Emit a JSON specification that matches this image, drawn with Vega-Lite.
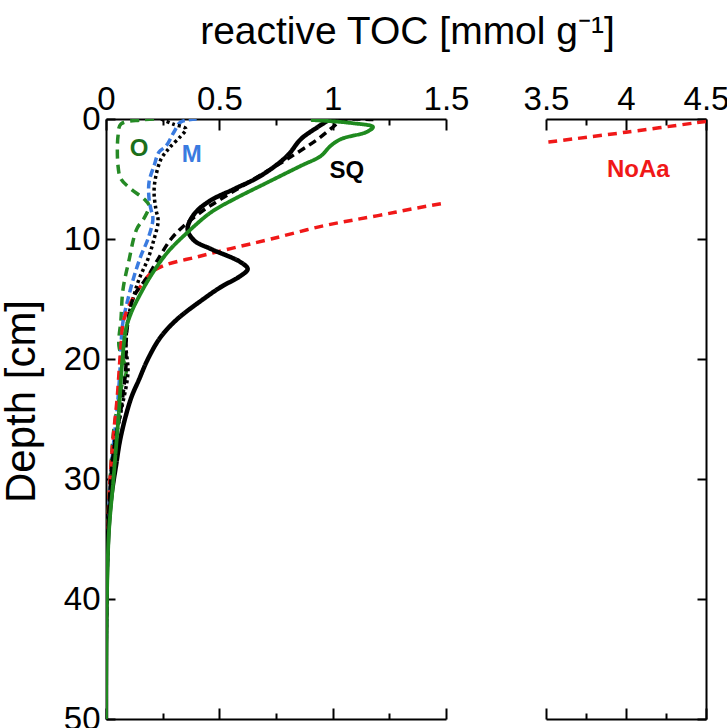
{
  "$schema": "https://vega.github.io/schema/vega-lite/v6.json",
  "background": "white",
  "padding": {"left": 0, "top": 12, "right": 0, "bottom": 0},
  "spacing": 100,
  "bounds": "flush",
  "config": {"view": {"stroke": null}, "font": "Liberation Sans"},
  "datasets": {
    "lines": [
      {"s":"O","x":0.212,"d":0},{"s":"O","x":0.154,"d":0.08},{"s":"O","x":0.066,"d":0.42},{"s":"O","x":0.053,"d":1.42},{"s":"O","x":0.053,"d":3.9},{"s":"O","x":0.066,"d":5.0},{"s":"O","x":0.11,"d":5.83},{"s":"O","x":0.168,"d":6.67},{"s":"O","x":0.19,"d":7.2},{"s":"O","x":0.17,"d":8.2},{"s":"O","x":0.135,"d":9.2},{"s":"O","x":0.10,"d":11.9},{"s":"O","x":0.075,"d":14.2},{"s":"O","x":0.066,"d":16.7},{"s":"O","x":0.057,"d":18.9},{"s":"O","x":0.075,"d":20.0},{"s":"O","x":0.09,"d":21.0},{"s":"O","x":0.07,"d":22.2},{"s":"O","x":0.035,"d":25.8},{"s":"O","x":0.022,"d":28.9},{"s":"O","x":0.009,"d":33.3},{"s":"O","x":0.002,"d":40},{"s":"O","x":0,"d":50},
      {"s":"M","x":0.40,"d":0},{"s":"M","x":0.33,"d":0.25},{"s":"M","x":0.30,"d":1.08},{"s":"M","x":0.265,"d":2.25},{"s":"M","x":0.234,"d":2.75},{"s":"M","x":0.212,"d":3.9},{"s":"M","x":0.19,"d":5.25},{"s":"M","x":0.19,"d":6.67},{"s":"M","x":0.198,"d":7.5},{"s":"M","x":0.207,"d":8.33},{"s":"M","x":0.185,"d":10},{"s":"M","x":0.154,"d":11.4},{"s":"M","x":0.124,"d":13.1},{"s":"M","x":0.097,"d":15},{"s":"M","x":0.075,"d":16.9},{"s":"M","x":0.066,"d":18.9},{"s":"M","x":0.062,"d":20.8},{"s":"M","x":0.049,"d":24.2},{"s":"M","x":0.031,"d":27.5},{"s":"M","x":0.018,"d":30.8},{"s":"M","x":0.009,"d":35},{"s":"M","x":0.002,"d":41.7},{"s":"M","x":0,"d":50},
      {"s":"Md","x":0.243,"d":0},{"s":"Md","x":0.296,"d":0.42},{"s":"Md","x":0.353,"d":0.83},{"s":"Md","x":0.33,"d":1.42},{"s":"Md","x":0.287,"d":2.25},{"s":"Md","x":0.265,"d":2.75},{"s":"Md","x":0.243,"d":3.33},{"s":"Md","x":0.22,"d":4.75},{"s":"Md","x":0.212,"d":6.08},{"s":"Md","x":0.22,"d":7.5},{"s":"Md","x":0.23,"d":8.5},{"s":"Md","x":0.212,"d":10},{"s":"Md","x":0.185,"d":11.67},{"s":"Md","x":0.146,"d":13.33},{"s":"Md","x":0.119,"d":15},{"s":"Md","x":0.097,"d":16.67},{"s":"Md","x":0.088,"d":18.9},{"s":"Md","x":0.097,"d":21.1},{"s":"Md","x":0.066,"d":24.4},{"s":"Md","x":0.035,"d":27.25},{"s":"Md","x":0.022,"d":29.75},{"s":"Md","x":0.009,"d":35},{"s":"Md","x":0.002,"d":41.7},{"s":"Md","x":0,"d":50},
      {"s":"NoAa","x":4.5,"d":0.2},{"s":"NoAa","x":4.0,"d":1.1},{"s":"NoAa","x":3.53,"d":1.9},{"s":"NoAa","x":3.5,"d":1.95},{"s":"NoAa","x":1.5,"d":7.0},{"s":"NoAa","x":1.2,"d":8.05},{"s":"NoAa","x":0.96,"d":8.9},{"s":"NoAa","x":0.728,"d":10.0},{"s":"NoAa","x":0.55,"d":10.8},{"s":"NoAa","x":0.40,"d":11.5},{"s":"NoAa","x":0.256,"d":12.2},{"s":"NoAa","x":0.2,"d":12.8},{"s":"NoAa","x":0.154,"d":13.9},{"s":"NoAa","x":0.124,"d":14.75},{"s":"NoAa","x":0.079,"d":16.7},{"s":"NoAa","x":0.066,"d":18.9},{"s":"NoAa","x":0.049,"d":23.3},{"s":"NoAa","x":0.031,"d":26.7},{"s":"NoAa","x":0.013,"d":31.7},{"s":"NoAa","x":0.002,"d":40},{"s":"NoAa","x":0,"d":50},
      {"s":"SQd","x":1.18,"d":0.05},{"s":"SQd","x":1.04,"d":0.1},{"s":"SQd","x":1.006,"d":0.6},{"s":"SQd","x":0.935,"d":1.67},{"s":"SQd","x":0.80,"d":3.33},{"s":"SQd","x":0.653,"d":5.0},{"s":"SQd","x":0.507,"d":6.67},{"s":"SQd","x":0.419,"d":7.75},{"s":"SQd","x":0.344,"d":8.9},{"s":"SQd","x":0.287,"d":10.0},{"s":"SQd","x":0.23,"d":11.67},{"s":"SQd","x":0.185,"d":13.1},{"s":"SQd","x":0.124,"d":14.75},{"s":"SQd","x":0.097,"d":16.9},{"s":"SQd","x":0.088,"d":18.9},{"s":"SQd","x":0.088,"d":20.6},{"s":"SQd","x":0.066,"d":24.2},{"s":"SQd","x":0.035,"d":27.5},{"s":"SQd","x":0.018,"d":30.8},{"s":"SQd","x":0.007,"d":35.8},{"s":"SQd","x":0.002,"d":41.7},{"s":"SQd","x":0,"d":50},
      {"s":"SQ","x":0.99,"d":0},{"s":"SQ","x":0.94,"d":0.6},{"s":"SQ","x":0.86,"d":1.67},{"s":"SQ","x":0.80,"d":3.06},{"s":"SQ","x":0.684,"d":4.72},{"s":"SQ","x":0.566,"d":5.83},{"s":"SQ","x":0.46,"d":6.8},{"s":"SQ","x":0.39,"d":7.9},{"s":"SQ","x":0.36,"d":9.17},{"s":"SQ","x":0.39,"d":10.14},{"s":"SQ","x":0.463,"d":10.83},{"s":"SQ","x":0.595,"d":11.94},{"s":"SQ","x":0.625,"d":12.5},{"s":"SQ","x":0.595,"d":13.06},{"s":"SQ","x":0.507,"d":14.0},{"s":"SQ","x":0.43,"d":15.0},{"s":"SQ","x":0.313,"d":16.7},{"s":"SQ","x":0.24,"d":18.2},{"s":"SQ","x":0.185,"d":20.0},{"s":"SQ","x":0.146,"d":21.7},{"s":"SQ","x":0.11,"d":23.3},{"s":"SQ","x":0.066,"d":26.4},{"s":"SQ","x":0.044,"d":28.9},{"s":"SQ","x":0.022,"d":31.7},{"s":"SQ","x":0.009,"d":35},{"s":"SQ","x":0.002,"d":40},{"s":"SQ","x":0,"d":50},
      {"s":"SQg","x":0.904,"d":0.08},{"s":"SQg","x":1.08,"d":0.33},{"s":"SQg","x":1.178,"d":0.67},{"s":"SQg","x":1.15,"d":1.08},{"s":"SQg","x":1.037,"d":1.67},{"s":"SQg","x":0.99,"d":2.25},{"s":"SQg","x":0.948,"d":3.08},{"s":"SQg","x":0.86,"d":3.9},{"s":"SQg","x":0.713,"d":5.28},{"s":"SQg","x":0.566,"d":6.67},{"s":"SQg","x":0.463,"d":7.78},{"s":"SQg","x":0.36,"d":9.44},{"s":"SQg","x":0.272,"d":11.1},{"s":"SQg","x":0.198,"d":13.06},{"s":"SQg","x":0.14,"d":15},{"s":"SQg","x":0.11,"d":16.2},{"s":"SQg","x":0.088,"d":17.5},{"s":"SQg","x":0.074,"d":19.7},{"s":"SQg","x":0.066,"d":21.7},{"s":"SQg","x":0.057,"d":24.4},{"s":"SQg","x":0.048,"d":26.5},{"s":"SQg","x":0.033,"d":30},{"s":"SQg","x":0.013,"d":34.4},{"s":"SQg","x":0.004,"d":40},{"s":"SQg","x":0,"d":50}
    ],
    "labL": [{"t":"O","x":0.146,"d":2.5},{"t":"M","x":0.378,"d":3.0},{"t":"SQ","x":1.062,"d":4.3}],
    "labR": [{"t":"NoAa","x":4.077,"d":4.25}]
  },
  "hconcat": [
    {
      "width": 340, "height": 600,
      "resolve": {"scale": {"color": "independent"}, "axis": {"x": "independent", "y": "independent"}},
      "layer": [
        {
          "data": {"name": "lines"},
          "mark": {"type": "line", "clip": true, "interpolate": "catmull-rom"},
          "encoding": {
            "x": {"field": "x", "type": "quantitative", "scale": {"domain": [0, 1.5], "nice": false},
              "axis": {"orient": "top", "values": [0, 0.25, 0.5, 0.75, 1, 1.25, 1.5],
                "labelExpr": "datum.value % 0.5 === 0 ? format(datum.value, '~g') : ''",
                "tickSize": {"condition": {"test": "datum.value % 0.5 === 0", "value": -11}, "value": -6},
                "tickWidth": 2, "tickColor": "black", "domainColor": "black", "domainWidth": 2,
                "labelFont": "Liberation Sans", "labelFontSize": 33, "labelColor": "black", "labelPadding": 14,
                "labelFlush": false, "labelOverlap": false, "grid": false,
                "title": "reactive TOC [mmol g⁻¹]", "titleFont": "Liberation Sans", "titleFontSize": 39,
                "titleFontWeight": "normal", "titleColor": "black", "titleX": 301, "titleY": -88,
                "titleAlign": "center", "titleBaseline": "middle"}},
            "y": {"field": "d", "type": "quantitative", "scale": {"domain": [0, 50], "reverse": true, "nice": false},
              "axis": {"orient": "left", "values": [0, 10, 20, 30, 40, 50], "tickSize": -9, "tickWidth": 2,
                "tickColor": "black", "domainColor": "black", "domainWidth": 2,
                "labelFont": "Liberation Sans", "labelFontSize": 33, "labelColor": "black", "labelPadding": 15,
                "labelFlush": false, "labelOverlap": false, "grid": false,
                "title": "Depth [cm]", "titleFont": "Liberation Sans", "titleFontSize": 42, "titleFontWeight": "normal",
                "titleColor": "black", "titleX": -85, "titleY": 282, "titleAngle": -90, "titleAlign": "center", "titleBaseline": "middle"}},
            "color": {"field": "s", "type": "nominal", "legend": null,
              "scale": {"domain": ["O", "M", "Md", "NoAa", "SQd", "SQ", "SQg"],
                "range": ["#258a25", "#3a7be0", "#000000", "#f01818", "#000000", "#000000", "#1f8a1f"]}},
            "strokeDash": {"field": "s", "type": "nominal", "legend": null,
              "scale": {"domain": ["O", "M", "Md", "NoAa", "SQd", "SQ", "SQg"],
                "range": [[9, 6], [8, 4], [3, 3], [9, 6], [8, 5], [1, 0], [1, 0]]}},
            "strokeWidth": {"field": "s", "type": "nominal", "legend": null,
              "scale": {"type": "ordinal", "domain": ["O", "M", "Md", "NoAa", "SQd", "SQ", "SQg"],
                "range": [3.5, 3.5, 3.5, 3.5, 3.5, 4.5, 3.8]}},
            "order": {"value": null}
          }
        },
        {
          "data": {"name": "labL"},
          "mark": {"type": "text", "font": "Liberation Sans", "fontWeight": "bold", "fontSize": 24},
          "encoding": {
            "x": {"field": "x", "type": "quantitative", "scale": {"domain": [0, 1.5], "nice": false},
              "axis": {"orient": "bottom", "values": [0, 0.25, 0.5, 0.75, 1, 1.25, 1.5], "labels": false,
                "tickSize": {"condition": {"test": "datum.value % 0.5 === 0", "value": -11}, "value": -6},
                "tickWidth": 2, "tickColor": "black", "domainColor": "black", "domainWidth": 2, "grid": false, "title": null}},
            "y": {"field": "d", "type": "quantitative", "scale": {"domain": [0, 50], "reverse": true, "nice": false}, "axis": null},
            "text": {"field": "t"},
            "color": {"field": "t", "type": "nominal", "legend": null,
              "scale": {"domain": ["O", "M", "SQ", "NoAa"], "range": ["#1b6f1b", "#3a7be0", "#000000", "#f01818"]}}
          }
        }
      ]
    },
    {
      "width": 160, "height": 600,
      "resolve": {"scale": {"color": "independent"}, "axis": {"x": "independent", "y": "independent"}},
      "layer": [
        {
          "data": {"name": "lines"},
          "mark": {"type": "line", "clip": true, "interpolate": "catmull-rom"},
          "encoding": {
            "x": {"field": "x", "type": "quantitative", "scale": {"domain": [3.5, 4.5], "nice": false, "zero": false},
              "axis": {"orient": "top", "values": [3.5, 3.75, 4, 4.25, 4.5],
                "labelExpr": "datum.value % 0.5 === 0 ? format(datum.value, '~g') : ''",
                "tickSize": {"condition": {"test": "datum.value % 0.5 === 0", "value": -11}, "value": -6},
                "tickWidth": 2, "tickColor": "black", "domainColor": "black", "domainWidth": 2,
                "labelFont": "Liberation Sans", "labelFontSize": 33, "labelColor": "black", "labelPadding": 14,
                "labelFlush": false, "labelOverlap": false, "grid": false, "title": null}},
            "y": {"field": "d", "type": "quantitative", "scale": {"domain": [0, 50], "reverse": true, "nice": false},
              "axis": {"orient": "right", "values": [0, 10, 20, 30, 40, 50], "labels": false, "tickSize": -9, "tickWidth": 2,
                "tickColor": "black", "domainColor": "black", "domainWidth": 2, "grid": false, "title": null}},
            "color": {"field": "s", "type": "nominal", "legend": null,
              "scale": {"domain": ["O", "M", "Md", "NoAa", "SQd", "SQ", "SQg"],
                "range": ["#258a25", "#3a7be0", "#000000", "#f01818", "#000000", "#000000", "#1f8a1f"]}},
            "strokeDash": {"field": "s", "type": "nominal", "legend": null,
              "scale": {"domain": ["O", "M", "Md", "NoAa", "SQd", "SQ", "SQg"],
                "range": [[9, 6], [8, 4], [3, 3], [9, 6], [8, 5], [1, 0], [1, 0]]}},
            "strokeWidth": {"field": "s", "type": "nominal", "legend": null,
              "scale": {"type": "ordinal", "domain": ["O", "M", "Md", "NoAa", "SQd", "SQ", "SQg"],
                "range": [3.5, 3.5, 3.5, 3.5, 3.5, 4.5, 3.8]}},
            "order": {"value": null}
          }
        },
        {
          "data": {"name": "labR"},
          "mark": {"type": "text", "font": "Liberation Sans", "fontWeight": "bold", "fontSize": 24},
          "encoding": {
            "x": {"field": "x", "type": "quantitative", "scale": {"domain": [3.5, 4.5], "nice": false, "zero": false},
              "axis": {"orient": "bottom", "values": [3.5, 3.75, 4, 4.25, 4.5], "labels": false,
                "tickSize": {"condition": {"test": "datum.value % 0.5 === 0", "value": -11}, "value": -6},
                "tickWidth": 2, "tickColor": "black", "domainColor": "black", "domainWidth": 2, "grid": false, "title": null}},
            "y": {"field": "d", "type": "quantitative", "scale": {"domain": [0, 50], "reverse": true, "nice": false}, "axis": null},
            "text": {"field": "t"},
            "color": {"field": "t", "type": "nominal", "legend": null,
              "scale": {"domain": ["O", "M", "SQ", "NoAa"], "range": ["#1b6f1b", "#3a7be0", "#000000", "#f01818"]}}
          }
        }
      ]
    }
  ]
}
